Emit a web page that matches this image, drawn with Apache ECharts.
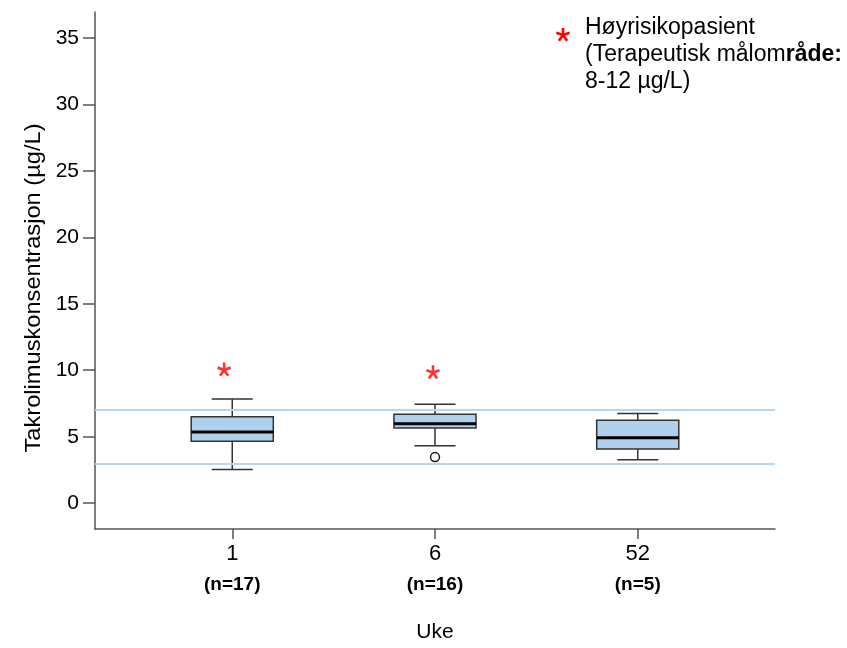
<!DOCTYPE html>
<html>
<head>
<meta charset="utf-8">
<title>Takrolimuskonsentrasjon per uke</title>
<script src="https://cdn.jsdelivr.net/npm/echarts@6/dist/echarts.min.js"></script>
<style>
  html, body { margin: 0; padding: 0; background: #ffffff; }
  #chart { width: 847px; height: 648px; }
</style>
</head>
<body>
<div id="chart"></div>
<script>
// Week categories and number of patients per week
const weeks = ['1', '6', '52'];
const counts = [17, 16, 5];

// Box plot statistics (µg/L) per week
const lowWhisker = [2.54, 4.33, 3.26];
const lowerQuartile = [4.65, 5.65, 4.08];
const medians = [5.35, 5.97, 4.93];
const upperQuartile = [6.51, 6.69, 6.24];
const highWhisker = [7.84, 7.44, 6.74];

// Outliers: [week index, value]
const outliers = [[1, 3.47]];

// High-risk patients: [week position, value]
const highRisk = [[-0.04, 10.05], [0.99, 9.85]];

// Horizontal reference lines (µg/L)
const referenceLines = [3, 7];

// Y-axis tick values
const yTicks = [0, 5, 10, 15, 20, 25, 30, 35];

const FONT = '"Liberation Sans", Arial, Helvetica, sans-serif';
const BOX_WIDTH = 0.405;   // in week-index units
const BOX_FILL = '#afd1ee';
const EDGE = '#333333';
const REF_COLOR = '#b7d6ef';

// Five arms of an asterisk, each as a polygon, around (0,0) with given radius
function asteriskArms(r) {
  const w = 0.38 * r;
  const arms = [];
  for (let k = 0; k < 5; k++) {
    const a = (-90 + k * 72) * Math.PI / 180;
    const dx = Math.cos(a) * r, dy = Math.sin(a) * r;
    const px = -Math.sin(a) * w / 2, py = Math.cos(a) * w / 2;
    arms.push([[px, py], [px + dx, py + dy], [-px + dx, -py + dy], [-px, -py]]);
  }
  return arms;
}
const ASTERISK = 'path://' + asteriskArms(1).map(arm =>
  'M' + arm.map(p => p[0].toFixed(4) + ' ' + p[1].toFixed(4)).join('L') + 'Z'
).join('');

const boxData = weeks.map((w, i) => [
  i, lowWhisker[i], lowerQuartile[i], medians[i], upperQuartile[i], highWhisker[i]
]);

function renderBox(params, api) {
  const x = api.value(0);
  const lo = api.coord([x, api.value(1)]);
  const q1 = api.coord([x, api.value(2)]);
  const md = api.coord([x, api.value(3)]);
  const q3 = api.coord([x, api.value(4)]);
  const hi = api.coord([x, api.value(5)]);
  const w = api.size([BOX_WIDTH, 0])[0];
  const cx = lo[0];
  const line = { stroke: EDGE, lineWidth: 1.5 };
  return {
    type: 'group',
    children: [
      { type: 'line', shape: { x1: cx, y1: lo[1], x2: cx, y2: q1[1] }, style: line },
      { type: 'line', shape: { x1: cx, y1: q3[1], x2: cx, y2: hi[1] }, style: line },
      { type: 'line', shape: { x1: cx - w / 4, y1: lo[1], x2: cx + w / 4, y2: lo[1] }, style: line },
      { type: 'line', shape: { x1: cx - w / 4, y1: hi[1], x2: cx + w / 4, y2: hi[1] }, style: line },
      {
        type: 'rect',
        shape: { x: cx - w / 2, y: q3[1], width: w, height: q1[1] - q3[1] },
        style: { fill: BOX_FILL, stroke: EDGE, lineWidth: 1.5 }
      },
      {
        type: 'line',
        shape: { x1: cx - w / 2, y1: md[1], x2: cx + w / 2, y2: md[1] },
        style: { stroke: '#000000', lineWidth: 3 }
      }
    ]
  };
}

const chart = echarts.init(document.getElementById('chart'), null, { renderer: 'canvas' });

chart.setOption({
  animation: false,
  backgroundColor: '#ffffff',
  textStyle: { fontFamily: FONT },
  grid: { left: 95, right: 72, top: 12, bottom: 111, containLabel: false },
  xAxis: {
    type: 'value',
    min: -0.677,
    max: 2.677,
    name: 'Uke',
    nameLocation: 'middle',
    nameGap: 93,
    nameTextStyle: { fontFamily: FONT, fontSize: 21, color: '#000' },
    splitLine: { show: false },
    axisLine: { onZero: false, lineStyle: { color: '#555', width: 1.5 } },
    axisTick: {
      customValues: [0, 1, 2],
      length: 10,
      lineStyle: { color: '#555', width: 1.5 }
    },
    axisLabel: {
      customValues: [0, 1, 2],
      margin: 11,
      formatter: v => {
        const i = Math.round(v);
        return '{a|' + weeks[i] + '}\n{n|(n=' + counts[i] + ')}';
      },
      rich: {
        a: { fontFamily: FONT, fontSize: 22, lineHeight: 28, color: '#000' },
        n: { fontFamily: FONT, fontSize: 19, fontWeight: 'bold', lineHeight: 34, color: '#000' }
      }
    }
  },
  yAxis: {
    type: 'value',
    min: -1.94,
    max: 36.94,
    splitLine: { show: false },
    axisLine: { show: true, onZero: false, lineStyle: { color: '#555', width: 1.5 } },
    axisTick: {
      show: true,
      customValues: yTicks,
      length: 12,
      lineStyle: { color: '#555', width: 1.5 }
    },
    axisLabel: {
      customValues: yTicks,
      margin: 16,
      fontFamily: FONT,
      fontSize: 21,
      color: '#000'
    }
  },
  series: [
    {
      type: 'custom',
      name: 'Takrolimus',
      renderItem: renderBox,
      encode: { x: 0, y: [1, 2, 3, 4, 5] },
      data: boxData,
      z: 3,
      markLine: {
        silent: true,
        symbol: 'none',
        label: { show: false },
        lineStyle: { color: REF_COLOR, width: 2, type: 'solid' },
        data: referenceLines.map(v => ({ yAxis: v }))
      }
    },
    {
      type: 'scatter',
      name: 'Uteligger',
      symbol: 'circle',
      symbolSize: 9,
      itemStyle: { color: '#ffffff', borderColor: '#111111', borderWidth: 1.4, opacity: 1 },
      data: outliers,
      z: 5
    },
    {
      type: 'scatter',
      name: 'Høyrisikopasient',
      symbol: ASTERISK,
      symbolSize: [14, 14],
      itemStyle: { color: '#ff0000' },
      data: highRisk,
      z: 5
    }
  ],
  graphic: [
    {
      type: 'text',
      x: 34,
      y: 288,
      rotation: Math.PI / 2,
      scaleX: 1.1,
      style: {
        text: 'Takrolimuskonsentrasjon (µg/L)',
        font: '21.5px ' + FONT,
        fill: '#000',
        textAlign: 'center',
        textVerticalAlign: 'middle'
      }
    },
    {
      type: 'group',
      x: 563,
      y: 35,
      children: asteriskArms(7).map(arm => ({
        type: 'polygon',
        shape: { points: arm },
        style: { fill: '#ff0000' }
      }))
    },
    {
      type: 'text',
      x: 585,
      y: 14.5,
      style: {
        text: 'Høyrisikopasient\n(Terapeutisk målom{b|råde:}\n8-12 µg/L)',
        font: '23px ' + FONT,
        fill: '#000',
        lineHeight: 27,
        textVerticalAlign: 'top',
        rich: {
          b: { font: 'bold 23px ' + FONT, fill: '#000', lineHeight: 27 }
        }
      }
    }
  ]
});
</script>
</body>
</html>
